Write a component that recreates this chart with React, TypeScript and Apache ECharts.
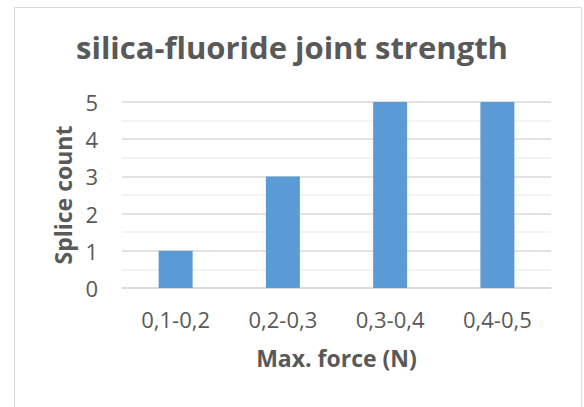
import React, { useEffect, useRef } from "react";
import * as echarts from "echarts";

// Bins of maximum pull force and number of splices in each
const categories = ["0,1-0,2", "0,2-0,3", "0,3-0,4", "0,4-0,5"];
const spliceCounts = [1, 3, 5, 5];
const yMin = 0;
const yMax = 5;
const yStep = 1;

const TEXT = "#595959";
const FONT = "'Open Sans', Lato, sans-serif";

export default function App() {
  const ref = useRef<HTMLDivElement>(null);

  useEffect(() => {
    if (!ref.current) return;
    const chart = echarts.init(ref.current, undefined, { renderer: "svg" });
    chart.setOption({
      animation: false,
      backgroundColor: "#ffffff",
      textStyle: { fontFamily: FONT },
      title: {
        text: "silica-fluoride joint strength",
        left: "center",
        top: 26,
        textStyle: {
          fontFamily: FONT,
          fontSize: 31,
          fontWeight: "bold",
          color: TEXT,
        },
      },
      graphic: [
        {
          type: "rect",
          left: 12,
          top: 5,
          shape: { width: 567, height: 400 },
          style: { fill: "none", stroke: "#d9d9d9", lineWidth: 1 },
          silent: true,
        },
      ],
      grid: { left: 122, right: 33, top: 102, bottom: 119 },
      xAxis: {
        type: "category",
        data: categories,
        name: "Max. force (N)",
        nameLocation: "middle",
        nameGap: 58,
        nameTextStyle: { fontFamily: FONT, fontSize: 23, fontWeight: "bold", color: TEXT },
        axisLine: { show: true, lineStyle: { color: "#d9d9d9", width: 1.5 } },
        axisTick: { show: false },
        axisLabel: { fontFamily: FONT, fontSize: 22, color: TEXT, margin: 20 },
      },
      yAxis: {
        type: "value",
        min: yMin,
        max: yMax,
        interval: yStep,
        name: "Splice count",
        nameLocation: "middle",
        nameGap: 48,
        nameTextStyle: { fontFamily: FONT, fontSize: 23, fontWeight: "bold", color: TEXT },
        axisLine: { show: false },
        axisTick: { show: false },
        axisLabel: { fontFamily: FONT, fontSize: 22, color: TEXT, margin: 24 },
        splitLine: { lineStyle: { color: "#d9d9d9", width: 1.5 } },
        minorTick: { show: false, splitNumber: 2 },
        minorSplitLine: { show: true, lineStyle: { color: "#efefef", width: 1.5 } },
      },
      series: [
        {
          type: "bar",
          data: spliceCounts,
          barWidth: 34,
          itemStyle: { color: "#5b9bd5" },
        },
      ],
    });
    return () => chart.dispose();
  }, []);

  return (
    <div
      ref={ref}
      style={{ position: "absolute", left: 0, top: 0, width: 584, height: 407 }}
    />
  );
}
